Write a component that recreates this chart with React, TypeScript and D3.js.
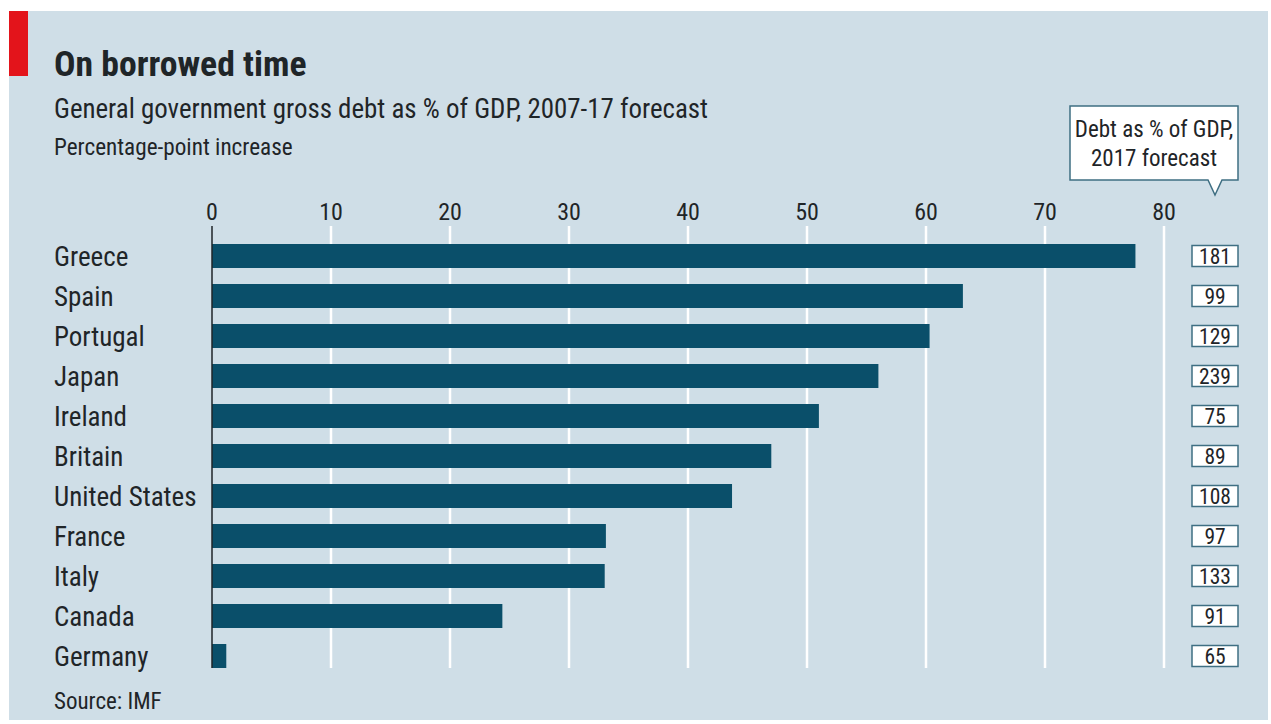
import React from "react";
import * as d3 from "d3";

const countries = ["Greece", "Spain", "Portugal", "Japan", "Ireland", "Britain", "United States", "France", "Italy", "Canada", "Germany"];
const increase = [77.6, 63.1, 60.3, 56.0, 51.0, 47.0, 43.7, 33.1, 33.0, 24.4, 1.2];
const debt2017 = [181, 99, 129, 239, 75, 89, 108, 97, 133, 91, 65];
const ticks = [0, 10, 20, 30, 40, 50, 60, 70, 80];

const FONT = "'Liberation Sans Narrow', 'Roboto Condensed', 'Open Sans', sans-serif";
const BG = "#cfdee7";
const BAR = "#0a4f6a";
const TXT = "#1f2528";

export default function App() {
  const x = d3.scaleLinear().domain([0, 80]).range([212, 1164]);
  const y = d3.scaleBand().domain(countries).range([236, 676]).paddingInner(0.4).paddingOuter(0.2);
  const bh = y.bandwidth();
  return (
    <svg width={1271} height={724} style={{ position: "absolute", left: 0, top: 0, fontFamily: FONT }}>
      <rect x={0} y={0} width={1271} height={724} fill="#fff" />
      <rect x={9} y={11} width={1259} height={709} fill={BG} />
      <rect x={9} y={11} width={19} height={65} fill="#e3141b" />
      <text x={54} y={76} fontSize={35.7} fontWeight="bold" fill={TXT}>On borrowed time</text>
      <text x={54} y={118} fontSize={26.9} fill={TXT}>General government gross debt as % of GDP, 2007-17 forecast</text>
      <text x={54} y={155} fontSize={23.2} fill={TXT}>Percentage-point increase</text>
      {ticks.map((t) => (
        <g key={t}>
          {t > 0 && <line x1={x(t)} x2={x(t)} y1={226} y2={668} stroke="#fff" strokeWidth={2.5} />}
          <text x={x(t)} y={220} fontSize={24} textAnchor="middle" fill={TXT}>{t}</text>
        </g>
      ))}
      {countries.map((c, i) => {
        const yc = (y(c) as number) + bh / 2;
        return (
          <g key={c}>
            <rect x={x(0)} y={y(c)} width={x(increase[i]) - x(0)} height={bh} fill={BAR} />
            <text x={54} y={yc + 9.5} fontSize={27} fill={TXT}>{c}</text>
            <rect x={1192} y={yc - 10.5} width={46} height={21} fill="#fff" stroke="#3f6f83" strokeWidth={1.5} />
            <text x={1215} y={yc + 8} fontSize={21.5} textAnchor="middle" fill={TXT}>{debt2017[i]}</text>
          </g>
        );
      })}
      <line x1={x(0)} x2={x(0)} y1={226} y2={668} stroke={TXT} strokeWidth={1.5} />
      <path d="M1070,106 H1238 V180 H1222 L1215,195 L1208,180 H1070 Z" fill="#fff" stroke="#3f6f83" strokeWidth={1.5} />
      <text x={1154} y={137} fontSize={23} textAnchor="middle" fill={TXT}>Debt as % of GDP,</text>
      <text x={1154} y={166} fontSize={23} textAnchor="middle" fill={TXT}>2017 forecast</text>
      <text x={54} y={709} fontSize={23} fill={TXT}>Source: IMF</text>
    </svg>
  );
}
